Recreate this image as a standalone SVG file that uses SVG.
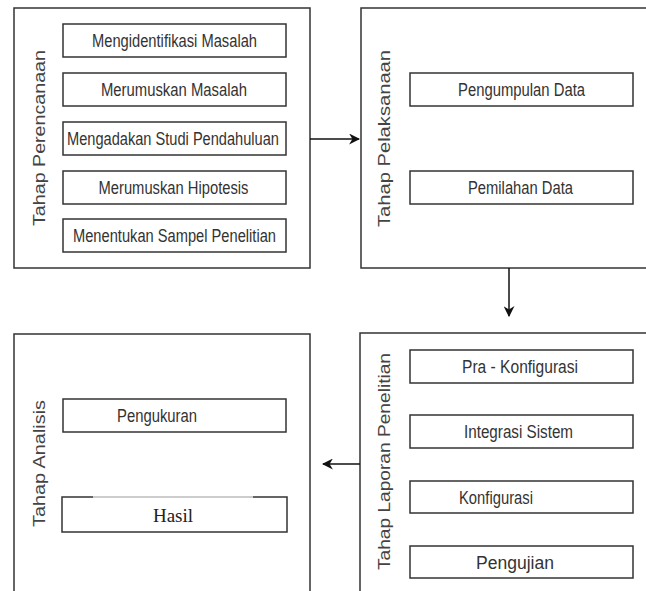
<svg xmlns="http://www.w3.org/2000/svg" width="646" height="591" viewBox="0 0 646 591">
<style>
.outer{fill:#fff;stroke:#333;stroke-width:1.5}
.inner{fill:#fff;stroke:#333;stroke-width:1.5}
.t{font-family:"Liberation Sans",Arial,sans-serif;font-size:17.5px;fill:#333;text-anchor:middle}
.lbl{font-family:"Liberation Sans",Arial,sans-serif;font-size:17px;fill:#444;text-anchor:middle}
.serif{font-family:"Liberation Serif","Times New Roman",serif;font-size:19px;fill:#222;text-anchor:middle}
.conn{stroke:#111;stroke-width:1.5;fill:none}
</style>
<defs>
<marker id="ah" viewBox="0 0 10 10" refX="9" refY="5" markerWidth="11" markerHeight="11" markerUnits="userSpaceOnUse" orient="auto">
<path d="M0,0 L10,5 L0,10 L3,5 z" fill="#111"/>
</marker>
</defs>
<rect width="646" height="591" fill="#fff"/>
<g id="perencanaan">
<rect class="outer" x="14" y="8" width="296" height="260"/>
<text class="lbl" transform="translate(45,138) rotate(-90)" textLength="176" lengthAdjust="spacingAndGlyphs">Tahap Perencanaan</text>
<rect class="inner" x="63" y="24" width="223" height="33"/>
<text class="t" x="174.5" y="47" textLength="165" lengthAdjust="spacingAndGlyphs">Mengidentifikasi Masalah</text>
<rect class="inner" x="63" y="73" width="223" height="33"/>
<text class="t" x="174" y="96" textLength="146" lengthAdjust="spacingAndGlyphs">Merumuskan Masalah</text>
<rect class="inner" x="63" y="122" width="223" height="33"/>
<text class="t" x="173" y="145" textLength="212" lengthAdjust="spacingAndGlyphs">Mengadakan Studi Pendahuluan</text>
<rect class="inner" x="63" y="171" width="223" height="33"/>
<text class="t" x="173.5" y="194" textLength="150" lengthAdjust="spacingAndGlyphs">Merumuskan Hipotesis</text>
<rect class="inner" x="63" y="219" width="223" height="33"/>
<text class="t" x="174.5" y="242" textLength="203" lengthAdjust="spacingAndGlyphs">Menentukan Sampel Penelitian</text>
</g>
<g id="pelaksanaan">
<rect class="outer" x="361" y="8" width="300" height="260"/>
<text class="lbl" transform="translate(390,138.5) rotate(-90)" textLength="177" lengthAdjust="spacingAndGlyphs">Tahap Pelaksanaan</text>
<rect class="inner" x="410" y="73" width="223" height="33"/>
<text class="t" x="521.5" y="96" textLength="127" lengthAdjust="spacingAndGlyphs">Pengumpulan Data</text>
<rect class="inner" x="410" y="171" width="223" height="33"/>
<text class="t" x="520.5" y="194" textLength="105" lengthAdjust="spacingAndGlyphs">Pemilahan Data</text>
</g>
<g id="analisis">
<rect class="outer" x="14" y="334" width="296" height="280"/>
<text class="lbl" transform="translate(45,463.5) rotate(-90)" textLength="127" lengthAdjust="spacingAndGlyphs">Tahap Analisis</text>
<rect class="inner" x="63" y="399" width="223" height="33"/>
<text class="t" x="157" y="422" textLength="80" lengthAdjust="spacingAndGlyphs">Pengukuran</text>
<path d="M93,497 L62,497 L62,532 L287,532 L287,497 L253,497" fill="#fff" stroke="#333" stroke-width="1.5"/>
<line x1="93" y1="497" x2="253" y2="497" stroke="#999" stroke-width="1"/>
<text class="serif" x="173" y="521.5">Hasil</text>
</g>
<g id="laporan">
<rect class="outer" x="360" y="333" width="300" height="280"/>
<text class="lbl" transform="translate(390,461.5) rotate(-90)" textLength="217" lengthAdjust="spacingAndGlyphs">Tahap Laporan Penelitian</text>
<rect class="inner" x="410" y="350" width="223" height="33"/>
<text class="t" x="520" y="373" textLength="116" lengthAdjust="spacingAndGlyphs">Pra - Konfigurasi</text>
<rect class="inner" x="410" y="415" width="223" height="33"/>
<text class="t" x="518.5" y="438" textLength="109" lengthAdjust="spacingAndGlyphs">Integrasi Sistem</text>
<rect class="inner" x="410" y="481" width="223" height="32"/>
<text class="t" x="496" y="503.5" textLength="74" lengthAdjust="spacingAndGlyphs">Konfigurasi</text>
<rect class="inner" x="410" y="546" width="223" height="32"/>
<text class="t" x="515" y="568.5" textLength="78" lengthAdjust="spacingAndGlyphs">Pengujian</text>
</g>
<g id="connectors">
<line class="conn" x1="310" y1="139" x2="359" y2="139" marker-end="url(#ah)"/>
<line class="conn" x1="509" y1="268" x2="509" y2="316" marker-end="url(#ah)"/>
<line class="conn" x1="360" y1="464" x2="323" y2="464" marker-end="url(#ah)"/>
</g>
</svg>
